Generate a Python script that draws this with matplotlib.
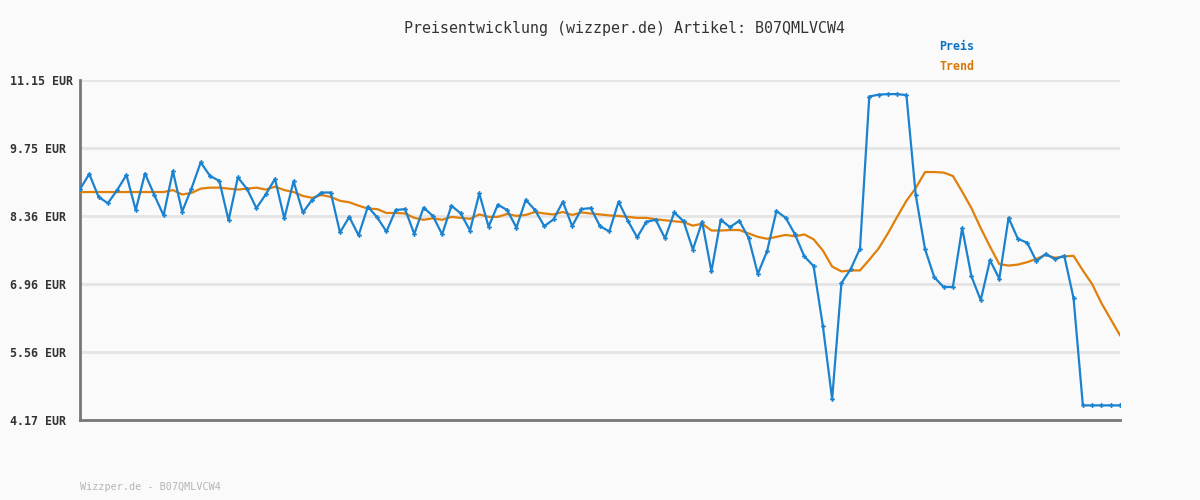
import numpy as np
import matplotlib
matplotlib.use("Agg")
import matplotlib.pyplot as plt

# Preis values (EUR), one per observation
preis = [
    8.91, 9.22, 8.75, 8.62, 8.89, 9.20, 8.48, 9.23, 8.79, 8.37,
    9.28, 8.45, 8.92, 9.46, 9.18, 9.08, 8.27, 9.15, 8.91, 8.52,
    8.80, 9.12, 8.31, 9.07, 8.43, 8.69, 8.84, 8.84, 8.02, 8.34,
    7.96, 8.55, 8.33, 8.04, 8.48, 8.50, 7.99, 8.53, 8.36, 7.98,
    8.57, 8.41, 8.06, 8.82, 8.14, 8.59, 8.48, 8.12, 8.69, 8.48,
    8.15, 8.29, 8.65, 8.15, 8.50, 8.52, 8.15, 8.04, 8.65, 8.26,
    7.92, 8.24, 8.28, 7.90, 8.43, 8.25, 7.67, 8.24, 7.22, 8.28,
    8.13, 8.26, 7.91, 7.17, 7.64, 8.46, 8.32, 7.98, 7.53, 7.33,
    6.10, 4.60, 6.98, 7.27, 7.69, 10.81, 10.85, 10.86, 10.86, 10.84,
    8.79, 7.68, 7.10, 6.90, 6.90, 8.11, 7.12, 6.63, 7.45, 7.07,
    8.32, 7.89, 7.81, 7.43, 7.58, 7.47, 7.54, 6.67, 4.47, 4.47,
    4.47, 4.47, 4.47,
]

# Trend values (EUR)
trend = [
    8.85, 8.85, 8.85, 8.85, 8.85, 8.85, 8.85, 8.85, 8.85, 8.85,
    8.89, 8.80, 8.83, 8.92, 8.94, 8.94, 8.92, 8.90, 8.92, 8.94,
    8.90, 8.96, 8.89, 8.85, 8.77, 8.73, 8.79, 8.75, 8.67, 8.64,
    8.57, 8.51, 8.50, 8.42, 8.42, 8.41, 8.32, 8.28, 8.31, 8.28,
    8.34, 8.32, 8.30, 8.39, 8.34, 8.34, 8.40, 8.36, 8.38, 8.44,
    8.41, 8.39, 8.44, 8.38, 8.43, 8.41, 8.39, 8.37, 8.36, 8.34,
    8.32, 8.32, 8.29, 8.27, 8.25, 8.23, 8.16, 8.20, 8.06, 8.06,
    8.07, 8.07, 8.00, 7.93, 7.89, 7.93, 7.97, 7.94, 7.98, 7.88,
    7.65, 7.32, 7.22, 7.24, 7.24, 7.46, 7.69, 8.00, 8.34, 8.67,
    8.93, 9.26, 9.26, 9.25, 9.18, 8.86, 8.52, 8.11, 7.73, 7.37,
    7.34, 7.36, 7.41, 7.48, 7.56, 7.50, 7.53, 7.54, 7.24, 6.96,
    6.57, 6.24, 5.91,
]

yticks = [4.17, 5.56, 6.96, 8.36, 9.75, 11.15]
ytick_labels = ["4.17 EUR", "5.56 EUR", "6.96 EUR", "8.36 EUR", "9.75 EUR", "11.15 EUR"]

title = "Preisentwicklung (wizzper.de) Artikel: B07QMLVCW4"
footer = "Wizzper.de - B07QMLVCW4"

blue = "#1a82cf"
orange = "#e07f0a"
mono = "DejaVu Sans Mono"

fig = plt.figure(figsize=(12, 5), dpi=100, facecolor="#fafafa")
ax = fig.add_axes([80 / 1200, 80 / 500, 1040 / 1200, 340 / 500])
ax.set_facecolor("#fafafa")

x = np.arange(len(preis))
ax.plot(x, trend, color=orange, lw=1.6, zorder=3)
ax.plot(x, preis, color=blue, lw=1.6, marker="P", markersize=3.5,
        markeredgewidth=0, zorder=4)

ax.set_xlim(0, len(preis) - 1)
ax.set_ylim(yticks[0], yticks[-1])
ax.set_yticks(yticks)
ax.set_yticklabels(ytick_labels, fontfamily=mono, fontweight="bold",
                   fontsize=8.4, color="#333333")
for lab in ax.get_yticklabels():
    lab.set_horizontalalignment("left")
ax.set_xticks([])
# left edge of tick labels at about x=10 px -> 70 px from the axis
ax.tick_params(axis="y", length=0, pad=70 * 72 / 100)
ax.grid(axis="y", color="#e4e4e4", lw=2)
ax.set_axisbelow(True)

for side in ["top", "right"]:
    ax.spines[side].set_visible(False)
for side in ["left", "bottom"]:
    ax.spines[side].set_color("#777777")
    ax.spines[side].set_linewidth(2)

fig.text(624 / 1200, 1 - 28 / 500, title, ha="center", va="center",
         fontfamily=mono, fontsize=10.8, color="#333333")
fig.text(939 / 1200, 1 - 47 / 500, "Preis", ha="left", va="center",
         fontfamily=mono, fontweight="bold", fontsize=8.4, color="#0a74c4")
fig.text(939 / 1200, 1 - 67 / 500, "Trend", ha="left", va="center",
         fontfamily=mono, fontweight="bold", fontsize=8.4, color="#d97706")
fig.text(80 / 1200, 1 - 487 / 500, footer, ha="left", va="center",
         fontfamily=mono, fontsize=7.3, color="#b5b5b5")

fig.savefig("out.png", dpi=100, facecolor=fig.get_facecolor())
